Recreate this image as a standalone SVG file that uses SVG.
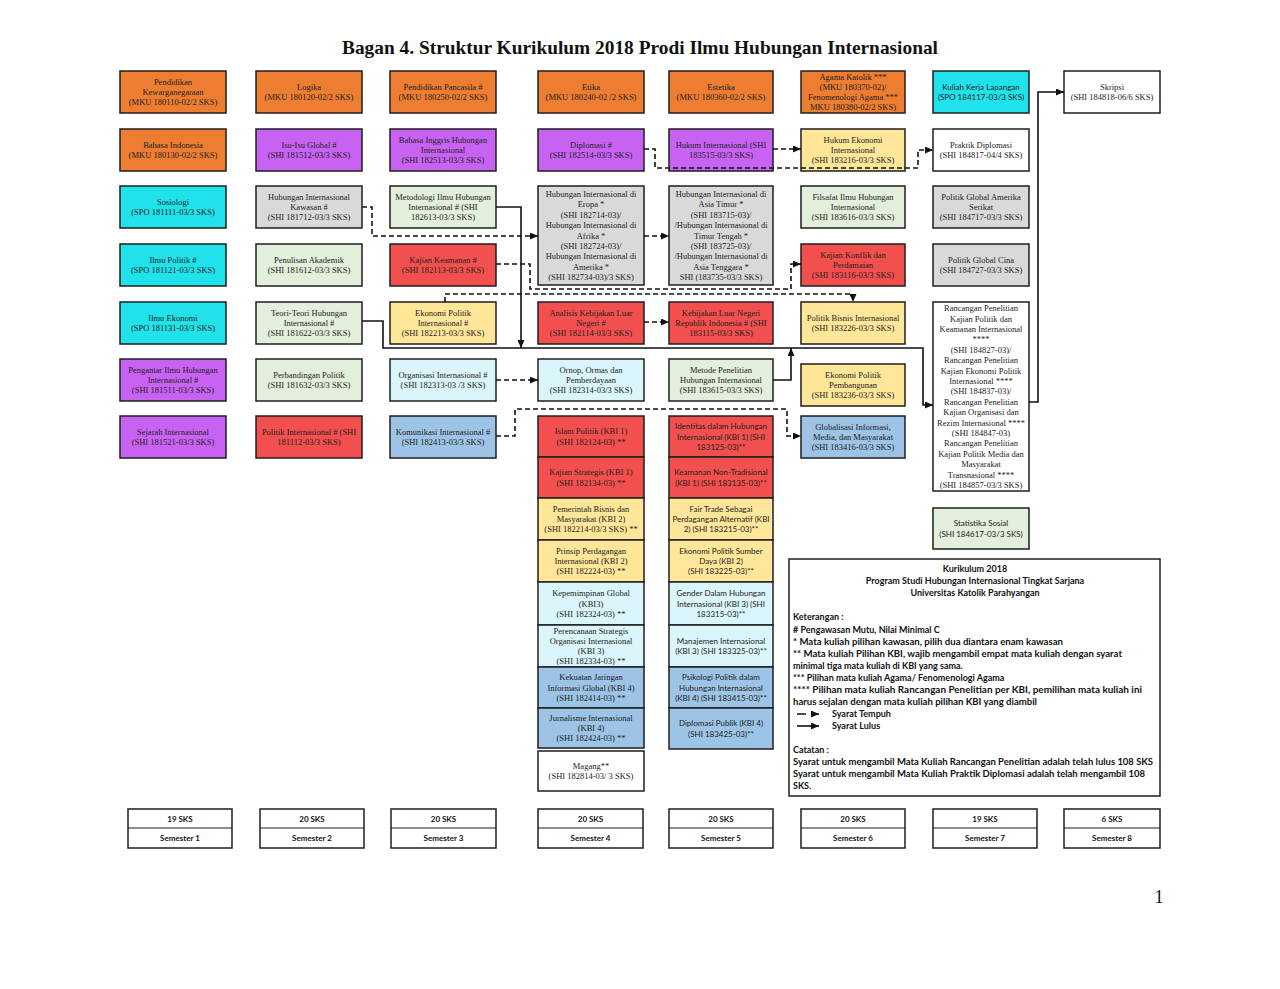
<svg xmlns="http://www.w3.org/2000/svg" width="1280" height="989" viewBox="0 0 1280 989">
<style>
.b{stroke:#1e1e1e;stroke-width:1.5}
.or{fill:#ed7d31}.pu{fill:#c862f2}.cy{fill:#1fe2ea}.gr{fill:#d9d9d9}.lg{fill:#e2efda}.rd{fill:#f24f4f}.ye{fill:#ffe699}.lc{fill:#dbf6fb}.bl{fill:#9dc3e6}.wh{fill:#fff}
.t{font-family:"Liberation Serif","Times New Roman",serif;font-size:8.5px;fill:#222;text-anchor:middle}
.s{font-family:Lato,"Liberation Sans",sans-serif;font-size:8px;fill:#222;text-anchor:middle}
.d{fill:none;stroke:#111;stroke-width:1.6;stroke-dasharray:5 3}
.l{fill:none;stroke:#111;stroke-width:1.6}
.lt{font-family:Lato,"Liberation Sans",sans-serif;font-size:9px;font-weight:bold;fill:#111}
.sm{font-family:Lato,"Liberation Sans",sans-serif;font-size:8px;font-weight:bold;fill:#111;text-anchor:middle}
</style>
<defs>
<marker id="ah" markerUnits="userSpaceOnUse" markerWidth="8" markerHeight="7" refX="8" refY="3.5" orient="auto">
<path d="M0,0 L8,3.5 L0,7 z" fill="#111"/>
</marker>
</defs>
<rect width="1280" height="989" fill="#fff"/>
<text x="342" y="54" font-family="Liberation Serif,Times New Roman,serif" font-size="19" font-weight="bold" fill="#111" textLength="596" lengthAdjust="spacingAndGlyphs">Bagan 4. Struktur Kurikulum 2018 Prodi Ilmu Hubungan Internasional</text>

<!-- Row 1 -->
<g id="n-kewarganegaraan"><rect class="b or" x="120" y="71" width="106" height="42"/><text class="t"><tspan x="173" y="84.6">Pendidikan</tspan><tspan x="173" y="95">Kewarganegaraan</tspan><tspan x="173" y="105.4">(MKU 180110-02/2 SKS)</tspan></text></g>
<g id="n-logika"><rect class="b or" x="256" y="71" width="106" height="42"/><text class="t"><tspan x="309" y="89.8">Logika</tspan><tspan x="309" y="100.2">(MKU 180120-02/2 SKS)</tspan></text></g>
<g id="n-pancasila"><rect class="b or" x="390" y="71" width="106" height="42"/><text class="t"><tspan x="443" y="89.8">Pendidikan Pancasila #</tspan><tspan x="443" y="100.2">(MKU 180250-02/2 SKS)</tspan></text></g>
<g id="n-etika"><rect class="b or" x="538" y="71" width="106" height="42"/><text class="t"><tspan x="591" y="89.8">Etika</tspan><tspan x="591" y="100.2">(MKU 180240-02 /2 SKS)</tspan></text></g>
<g id="n-estetika"><rect class="b or" x="669" y="71" width="104" height="42"/><text class="t"><tspan x="721" y="89.8">Estetika</tspan><tspan x="721" y="100.2">(MKU 180360-02/2 SKS)</tspan></text></g>
<g id="n-agama"><rect class="b or" x="801" y="71" width="104" height="42"/><text class="t"><tspan x="853" y="80">Agama Katolik ***</tspan><tspan x="853" y="90">(MKU 180370-02)/</tspan><tspan x="853" y="100">Fenomenologi Agama ***</tspan><tspan x="853" y="110">MKU 180380-02/2 SKS)</tspan></text></g>
<g id="n-kkl"><rect class="b cy" x="933" y="71" width="96" height="42"/><text class="s"><tspan x="981" y="89.8">Kuliah Kerja Lapangan</tspan><tspan x="981" y="100.2">(SPO 184117-03/3 SKS)</tspan></text></g>
<g id="n-skripsi"><rect class="b wh" x="1064" y="71" width="96" height="42"/><text class="t"><tspan x="1112" y="89.8">Skripsi</tspan><tspan x="1112" y="100.2">(SHI 184818-06/6 SKS)</tspan></text></g>

<!-- Row 2 -->
<g id="n-bindonesia"><rect class="b or" x="120" y="129" width="106" height="42"/><text class="t"><tspan x="173" y="147.8">Bahasa Indonesia</tspan><tspan x="173" y="158.2">(MKU 180130-02/2 SKS)</tspan></text></g>
<g id="n-isuglobal"><rect class="b pu" x="256" y="129" width="106" height="42"/><text class="t"><tspan x="309" y="147.8">Isu-Isu Global #</tspan><tspan x="309" y="158.2">(SHI 181512-03/3 SKS)</tspan></text></g>
<g id="n-binggris"><rect class="b pu" x="390" y="129" width="106" height="42"/><text class="t"><tspan x="443" y="142.6">Bahasa Inggris Hubungan</tspan><tspan x="443" y="153">Internasional</tspan><tspan x="443" y="163.4">(SHI 182513-03/3 SKS)</tspan></text></g>
<g id="n-diplomasi"><rect class="b pu" x="538" y="129" width="106" height="42"/><text class="t"><tspan x="591" y="147.8">Diplomasi #</tspan><tspan x="591" y="158.2">(SHI 182514-03/3 SKS)</tspan></text></g>
<g id="n-hukumint"><rect class="b pu" x="669" y="129" width="104" height="42"/><text class="t"><tspan x="721" y="147.8">Hukum Internasional (SHI</tspan><tspan x="721" y="158.2">183515-03/3 SKS)</tspan></text></g>
<g id="n-hukumeko"><rect class="b ye" x="801" y="129" width="104" height="42"/><text class="t"><tspan x="853" y="142.6">Hukum Ekonomi</tspan><tspan x="853" y="153">Internasional</tspan><tspan x="853" y="163.4">(SHI 183216-03/3 SKS)</tspan></text></g>
<g id="n-praktikdiplomasi"><rect class="b wh" x="933" y="129" width="96" height="42"/><text class="t"><tspan x="981" y="147.8">Praktik Diplomasi</tspan><tspan x="981" y="158.2">(SHI 184817-04/4 SKS)</tspan></text></g>

<!-- Row 3 -->
<g id="n-sosiologi"><rect class="b cy" x="120" y="186" width="106" height="42"/><text class="t"><tspan x="173" y="204.8">Sosiologi</tspan><tspan x="173" y="215.2">(SPO 181111-03/3 SKS)</tspan></text></g>
<g id="n-hikawasan"><rect class="b gr" x="256" y="186" width="106" height="42"/><text class="t"><tspan x="309" y="199.6">Hubungan Internasional</tspan><tspan x="309" y="210">Kawasan #</tspan><tspan x="309" y="220.4">(SHI 181712-03/3 SKS)</tspan></text></g>
<g id="n-metodologi"><rect class="b lg" x="390" y="186" width="106" height="42"/><text class="t"><tspan x="443" y="199.6">Metodologi Ilmu Hubungan</tspan><tspan x="443" y="210">Internasional # (SHI</tspan><tspan x="443" y="220.4">182613-03/3 SKS)</tspan></text></g>
<g id="n-hieropa"><rect class="b gr" x="538" y="186" width="106" height="99"/><text class="t"><tspan x="591" y="196.9">Hubungan Internasional di</tspan><tspan x="591" y="207.3">Eropa *</tspan><tspan x="591" y="217.7">(SHI 182714-03)/</tspan><tspan x="591" y="228.1">Hubungan Internasional di</tspan><tspan x="591" y="238.5">Afrika *</tspan><tspan x="591" y="248.9">(SHI 182724-03)/</tspan><tspan x="591" y="259.3">Hubungan Internasional di</tspan><tspan x="591" y="269.7">Amerika *</tspan><tspan x="591" y="280.1">(SHI 182734-03)/3 SKS)</tspan></text></g>
<g id="n-hiasia"><rect class="b gr" x="669" y="186" width="104" height="99"/><text class="t"><tspan x="721" y="196.9">Hubungan Internasional di</tspan><tspan x="721" y="207.3">Asia Timur *</tspan><tspan x="721" y="217.7">(SHI 183715-03)/</tspan><tspan x="721" y="228.1">/Hubungan Internasional di</tspan><tspan x="721" y="238.5">Timur Tengah *</tspan><tspan x="721" y="248.9">(SHI 183725-03)/</tspan><tspan x="721" y="259.3">/Hubungan Internasional di</tspan><tspan x="721" y="269.7">Asia Tenggara *</tspan><tspan x="721" y="280.1">SHI (183735-03/3 SKS)</tspan></text></g>
<g id="n-filsafat"><rect class="b lg" x="801" y="186" width="104" height="42"/><text class="t"><tspan x="853" y="199.6">Filsafat Ilmu Hubungan</tspan><tspan x="853" y="210">Internasional</tspan><tspan x="853" y="220.4">(SHI 183616-03/3 SKS)</tspan></text></g>
<g id="n-pgamerika"><rect class="b gr" x="933" y="186" width="96" height="42"/><text class="t"><tspan x="981" y="199.6">Politik Global Amerika</tspan><tspan x="981" y="210">Serikat</tspan><tspan x="981" y="220.4">(SHI 184717-03/3 SKS)</tspan></text></g>

<!-- Row 4 -->
<g id="n-ilmupolitik"><rect class="b cy" x="120" y="244" width="106" height="42"/><text class="t"><tspan x="173" y="262.8">Ilmu Politik #</tspan><tspan x="173" y="273.2">(SPO 181121-03/3 SKS)</tspan></text></g>
<g id="n-penulisan"><rect class="b lg" x="256" y="244" width="106" height="42"/><text class="t"><tspan x="309" y="262.8">Penulisan Akademik</tspan><tspan x="309" y="273.2">(SHI 181612-03/3 SKS)</tspan></text></g>
<g id="n-keamanan"><rect class="b rd" x="390" y="244" width="106" height="42"/><text class="t"><tspan x="443" y="262.8">Kajian Keamanan #</tspan><tspan x="443" y="273.2">(SHI 182113-03/3 SKS)</tspan></text></g>
<g id="n-konflik"><rect class="b rd" x="801" y="244" width="104" height="42"/><text class="t"><tspan x="853" y="257.6">Kajian Konflik dan</tspan><tspan x="853" y="268">Perdamaian</tspan><tspan x="853" y="278.4">(SHI 183116-03/3 SKS)</tspan></text></g>
<g id="n-pgcina"><rect class="b gr" x="933" y="244" width="96" height="42"/><text class="t"><tspan x="981" y="262.8">Politik Global Cina</tspan><tspan x="981" y="273.2">(SHI 184727-03/3 SKS)</tspan></text></g>

<!-- Row 5 -->
<g id="n-ilmuekonomi"><rect class="b cy" x="120" y="302" width="106" height="42"/><text class="t"><tspan x="173" y="320.8">Ilmu Ekonomi</tspan><tspan x="173" y="331.2">(SPO 181131-03/3 SKS)</tspan></text></g>
<g id="n-teori"><rect class="b lg" x="256" y="302" width="106" height="42"/><text class="t"><tspan x="309" y="315.6">Teori-Teori Hubungan</tspan><tspan x="309" y="326">Internasional #</tspan><tspan x="309" y="336.4">(SHI 181622-03/3 SKS)</tspan></text></g>
<g id="n-epi"><rect class="b ye" x="390" y="302" width="106" height="42"/><text class="t"><tspan x="443" y="315.6">Ekonomi Politik</tspan><tspan x="443" y="326">Internasional #</tspan><tspan x="443" y="336.4">(SHI 182213-03/3 SKS)</tspan></text></g>
<g id="n-akln"><rect class="b rd" x="538" y="302" width="106" height="42"/><text class="t"><tspan x="591" y="315.6">Analisis Kebijakan Luar</tspan><tspan x="591" y="326">Negeri #</tspan><tspan x="591" y="336.4">(SHI 182114-03/3 SKS)</tspan></text></g>
<g id="n-klnri"><rect class="b rd" x="669" y="302" width="104" height="42"/><text class="t"><tspan x="721" y="315.6">Kebijakan Luar Negeri</tspan><tspan x="721" y="326">Republik Indonesia # (SHI</tspan><tspan x="721" y="336.4">183115-03/3 SKS)</tspan></text></g>
<g id="n-bisnis"><rect class="b ye" x="801" y="302" width="104" height="42"/><text class="t"><tspan x="853" y="320.8">Politik Bisnis Internasional</tspan><tspan x="853" y="331.2">(SHI 183226-03/3 SKS)</tspan></text></g>
<g id="n-rancangan"><rect class="b wh" x="933" y="302" width="96" height="189"/><text class="t"><tspan x="981" y="311.1">Rancangan Penelitian</tspan><tspan x="981" y="321.5">Kajian Politik dan</tspan><tspan x="981" y="331.9">Keamanan Internasional</tspan><tspan x="981" y="342.3">****</tspan><tspan x="981" y="352.7">(SHI 184827-03)/</tspan><tspan x="981" y="363.1">Rancangan Penelitian</tspan><tspan x="981" y="373.5">Kajian Ekonomi Politik</tspan><tspan x="981" y="383.9">Internasional ****</tspan><tspan x="981" y="394.3">(SHI 184837-03)/</tspan><tspan x="981" y="404.7">Rancangan Penelitian</tspan><tspan x="981" y="415.1">Kajian Organisasi dan</tspan><tspan x="981" y="425.5">Rezim Internasional ****</tspan><tspan x="981" y="435.9">(SHI 184847-03)</tspan><tspan x="981" y="446.3">Rancangan Penelitian</tspan><tspan x="981" y="456.7">Kajian Politik Media dan</tspan><tspan x="981" y="467.1">Masyarakat</tspan><tspan x="981" y="477.5">Transnasional ****</tspan><tspan x="981" y="487.9">(SHI 184857-03/3 SKS)</tspan></text></g>

<!-- Row 6 -->
<g id="n-pengantar"><rect class="b pu" x="120" y="359" width="106" height="42"/><text class="t"><tspan x="173" y="372.6">Pengantar Ilmu Hubungan</tspan><tspan x="173" y="383">Internasional #</tspan><tspan x="173" y="393.4">(SHI 181511-03/3 SKS)</tspan></text></g>
<g id="n-perbandingan"><rect class="b lg" x="256" y="359" width="106" height="42"/><text class="t"><tspan x="309" y="377.8">Perbandingan Politik</tspan><tspan x="309" y="388.2">(SHI 181632-03/3 SKS)</tspan></text></g>
<g id="n-organisasi"><rect class="b lc" x="390" y="359" width="106" height="42"/><text class="t"><tspan x="443" y="377.8">Organisasi Internasional #</tspan><tspan x="443" y="388.2">(SHI 182313-03 /3 SKS)</tspan></text></g>
<g id="n-ornop"><rect class="b lc" x="538" y="359" width="106" height="42"/><text class="t"><tspan x="591" y="372.6">Ornop, Ormas dan</tspan><tspan x="591" y="383">Pemberdayaan</tspan><tspan x="591" y="393.4">(SHI 182314-03/3 SKS)</tspan></text></g>
<g id="n-metode"><rect class="b lg" x="669" y="359" width="104" height="42"/><text class="t"><tspan x="721" y="372.6">Metode Penelitian</tspan><tspan x="721" y="383">Hubungan Internasional</tspan><tspan x="721" y="393.4">(SHI 183615-03/3 SKS)</tspan></text></g>
<g id="n-epp"><rect class="b ye" x="801" y="364" width="104" height="42"/><text class="t"><tspan x="853" y="377.6">Ekonomi Politik</tspan><tspan x="853" y="388">Pembangunan</tspan><tspan x="853" y="398.4">(SHI 183236-03/3 SKS)</tspan></text></g>

<!-- Row 7 -->
<g id="n-sejarah"><rect class="b pu" x="120" y="416" width="106" height="42"/><text class="t"><tspan x="173" y="434.8">Sejarah Internasional</tspan><tspan x="173" y="445.2">(SHI 181521-03/3 SKS)</tspan></text></g>
<g id="n-politikint"><rect class="b rd" x="256" y="416" width="106" height="42"/><text class="t"><tspan x="309" y="434.8">Politik Internasional # (SHI</tspan><tspan x="309" y="445.2">181112-03/3 SKS)</tspan></text></g>
<g id="n-komunikasi"><rect class="b bl" x="390" y="416" width="106" height="42"/><text class="t"><tspan x="443" y="434.8">Komunikasi Internasional #</tspan><tspan x="443" y="445.2">(SHI 182413-03/3 SKS)</tspan></text></g>
<g id="n-globalisasi"><rect class="b bl" x="801" y="416" width="104" height="42"/><text class="t"><tspan x="853" y="429.6">Globalisasi Informasi,</tspan><tspan x="853" y="440">Media, dan Masyarakat</tspan><tspan x="853" y="450.4">(SHI 183416-03/3 SKS)</tspan></text></g>

<!-- Semester 4 KBI stack -->
<g id="n-islampolitik"><rect class="b rd" x="538" y="416" width="106" height="41"/><text class="t"><tspan x="591" y="434.3">Islam Politik (KBI 1)</tspan><tspan x="591" y="444.7">(SHI 182124-03) **</tspan></text></g>
<g id="n-strategis"><rect class="b rd" x="538" y="457" width="106" height="41"/><text class="t"><tspan x="591" y="475.3">Kajian Strategis (KBI 1)</tspan><tspan x="591" y="485.7">(SHI 182134-03) **</tspan></text></g>
<g id="n-pemerintah"><rect class="b ye" x="538" y="498" width="106" height="42"/><text class="t"><tspan x="591" y="511.6">Pemerintah Bisnis dan</tspan><tspan x="591" y="522">Masyarakat (KBI 2)</tspan><tspan x="591" y="532.4">(SHI 182214-03/3 SKS) **</tspan></text></g>
<g id="n-prinsip"><rect class="b ye" x="538" y="540" width="106" height="42"/><text class="t"><tspan x="591" y="553.6">Prinsip Perdagangan</tspan><tspan x="591" y="564">Internasional (KBI 2)</tspan><tspan x="591" y="574.4">(SHI 182224-03) **</tspan></text></g>
<g id="n-kepemimpinan"><rect class="b lc" x="538" y="582" width="106" height="43"/><text class="t"><tspan x="591" y="596.1">Kepemimpinan Global</tspan><tspan x="591" y="606.5">(KBI3)</tspan><tspan x="591" y="616.9">(SHI 182324-03) **</tspan></text></g>
<g id="n-perencanaan"><rect class="b lc" x="538" y="625" width="106" height="42"/><text class="t"><tspan x="591" y="634">Perencanaan Strategis</tspan><tspan x="591" y="644">Organisasi Internasional</tspan><tspan x="591" y="654">(KBI 3)</tspan><tspan x="591" y="664">(SHI 182334-03) **</tspan></text></g>
<g id="n-kekuatan"><rect class="b bl" x="538" y="667" width="106" height="41"/><text class="t"><tspan x="591" y="680.1">Kekuatan Jaringan</tspan><tspan x="591" y="690.5">Informasi Global (KBI 4)</tspan><tspan x="591" y="700.9">(SHI 182414-03) **</tspan></text></g>
<g id="n-jurnalisme"><rect class="b bl" x="538" y="708" width="106" height="40"/><text class="t"><tspan x="591" y="720.6">Jurnalisme Internasional</tspan><tspan x="591" y="731">(KBI 4)</tspan><tspan x="591" y="741.4">(SHI 182424-03) **</tspan></text></g>
<g id="n-magang"><rect class="b wh" x="538" y="751" width="106" height="40"/><text class="t"><tspan x="591" y="768.8">Magang**</tspan><tspan x="591" y="779.2">(SHI 182814-03/ 3 SKS)</tspan></text></g>

<!-- Semester 5 KBI stack -->
<g id="n-identitas"><rect class="b rd" x="669" y="416" width="104" height="41"/><text class="s"><tspan x="721" y="429.1">Identitas dalam Hubungan</tspan><tspan x="721" y="439.5">Internasional (KBI 1) (SHI</tspan><tspan x="721" y="449.9">183125-03)**</tspan></text></g>
<g id="n-nontradisional"><rect class="b rd" x="669" y="457" width="104" height="41"/><text class="s"><tspan x="721" y="475.3">Keamanan Non-Tradisional</tspan><tspan x="721" y="485.7">(KBI 1) (SHI 183135-03)**</tspan></text></g>
<g id="n-fairtrade"><rect class="b ye" x="669" y="498" width="104" height="42"/><text class="s"><tspan x="721" y="511.6">Fair Trade Sebagai</tspan><tspan x="721" y="522">Perdagangan Alternatif (KBI</tspan><tspan x="721" y="532.4">2) (SHI 183215-03)**</tspan></text></g>
<g id="n-sumberdaya"><rect class="b ye" x="669" y="540" width="104" height="42"/><text class="s"><tspan x="721" y="553.6">Ekonomi Politik Sumber</tspan><tspan x="721" y="564">Daya (KBI 2)</tspan><tspan x="721" y="574.4">(SHI 183225-03)**</tspan></text></g>
<g id="n-gender"><rect class="b lc" x="669" y="582" width="104" height="43"/><text class="s"><tspan x="721" y="596.1">Gender Dalam Hubungan</tspan><tspan x="721" y="606.5">Internasional (KBI 3) (SHI</tspan><tspan x="721" y="616.9">183315-03)**</tspan></text></g>
<g id="n-manajemen"><rect class="b lc" x="669" y="625" width="104" height="42"/><text class="s"><tspan x="721" y="643.8">Manajemen Internasional</tspan><tspan x="721" y="654.2">(KBI 3) (SHI 183325-03)**</tspan></text></g>
<g id="n-psikologi"><rect class="b bl" x="669" y="667" width="104" height="41"/><text class="s"><tspan x="721" y="680.1">Psikologi Politik dalam</tspan><tspan x="721" y="690.5">Hubungan Internasional</tspan><tspan x="721" y="700.9">(KBI 4) (SHI 183415-03)**</tspan></text></g>
<g id="n-diplomasipublik"><rect class="b bl" x="669" y="708" width="104" height="41"/><text class="s"><tspan x="721" y="726.3">Diplomasi Publik (KBI 4)</tspan><tspan x="721" y="736.7">(SHI 183425-03)**</tspan></text></g>

<g id="n-statistika"><rect class="b lg" x="933" y="508" width="96" height="41"/><text class="s"><tspan x="981" y="526.3">Statistika Sosial</tspan><tspan x="981" y="536.7">(SHI 184617-03/3 SKS)</tspan></text></g>

<!-- Connectors -->
<g id="connectors">
<path class="d" d="M362,207 H372 V236 H538" marker-end="url(#ah)"/>
<path class="d" d="M644,236 H669" marker-end="url(#ah)"/>
<path class="d" d="M644,149 H655 V168 H918 V150 H933" marker-end="url(#ah)"/>
<path class="d" d="M773,149 H801" marker-end="url(#ah)"/>
<path class="d" d="M496,264 H530 V289 H791 V264 H801" marker-end="url(#ah)"/>
<path class="d" d="M445,302 V294 H853 V302" marker-end="url(#ah)"/>
<path class="d" d="M644,322 H669" marker-end="url(#ah)"/>
<path class="d" d="M496,380 H538" marker-end="url(#ah)"/>
<path class="d" d="M496,436 H515 V409 H787 V436 H801" marker-end="url(#ah)"/>
<path class="l" d="M362,321 H383 V348 H923 V405 H933" marker-end="url(#ah)"/>
<path class="l" d="M496,207 H521 V348" marker-end="url(#ah)"/>
<path class="l" d="M773,380 H791 V348" marker-end="url(#ah)"/>
<path class="l" d="M1029,402 H1038 V92 H1064" marker-end="url(#ah)"/>
</g>

<!-- Legend -->
<g id="legend">
<rect x="789" y="559" width="371" height="237" fill="#fff" stroke="#1e1e1e" stroke-width="1.5"/>
<text class="lt" x="975" y="572" text-anchor="middle">Kurikulum 2018</text>
<text class="lt" x="975" y="584" text-anchor="middle">Program Studi Hubungan Internasional Tingkat Sarjana</text>
<text class="lt" x="975" y="596" text-anchor="middle">Universitas Katolik Parahyangan</text>
<text class="lt" x="793" y="620">Keterangan :</text>
<text class="lt" x="793" y="632.5"># Pengawasan Mutu, Nilai Minimal C</text>
<text class="lt" x="793" y="644.5" textLength="270" lengthAdjust="spacingAndGlyphs">* Mata kuliah pilihan kawasan, pilih dua diantara enam kawasan</text>
<text class="lt" x="793" y="656.5" textLength="329" lengthAdjust="spacingAndGlyphs">** Mata kuliah Pilihan KBI, wajib mengambil empat mata kuliah dengan syarat</text>
<text class="lt" x="793" y="668.5">minimal tiga mata kuliah di KBI yang sama.</text>
<text class="lt" x="793" y="680.5">*** Pilihan mata kuliah Agama/ Fenomenologi Agama</text>
<text class="lt" x="793" y="693" textLength="349" lengthAdjust="spacingAndGlyphs">**** Pilihan mata kuliah Rancangan Penelitian per KBI, pemilihan mata kuliah ini</text>
<text class="lt" x="793" y="705" textLength="244" lengthAdjust="spacingAndGlyphs">harus sejalan dengan mata kuliah pilihan KBI yang diambil</text>
<path class="d" d="M797,714 H819" marker-end="url(#ah)" style="stroke-dasharray:9 6"/>
<text class="lt" x="832" y="717">Syarat Tempuh</text>
<path class="l" d="M797,726 H819" marker-end="url(#ah)"/>
<text class="lt" x="832" y="729">Syarat Lulus</text>
<text class="lt" x="793" y="752.5">Catatan :</text>
<text class="lt" x="793" y="765" textLength="360" lengthAdjust="spacingAndGlyphs">Syarat untuk mengambil Mata Kuliah Rancangan Penelitian adalah telah lulus 108 SKS</text>
<text class="lt" x="793" y="777" textLength="352" lengthAdjust="spacingAndGlyphs">Syarat untuk mengambil Mata Kuliah Praktik Diplomasi adalah telah mengambil 108</text>
<text class="lt" x="793" y="789">SKS.</text>
</g>

<!-- Semester boxes -->
<g id="sem1"><rect x="128" y="809" width="104" height="39" fill="#fff" stroke="#1e1e1e" stroke-width="1.5"/><line x1="128" y1="828" x2="232" y2="828" stroke="#1e1e1e" stroke-width="1.2"/><text class="sm" x="180" y="821.5">19 SKS</text><text class="sm" x="180" y="841">Semester 1</text></g>
<g id="sem2"><rect x="260" y="809" width="104" height="39" fill="#fff" stroke="#1e1e1e" stroke-width="1.5"/><line x1="260" y1="828" x2="364" y2="828" stroke="#1e1e1e" stroke-width="1.2"/><text class="sm" x="312" y="821.5">20 SKS</text><text class="sm" x="312" y="841">Semester 2</text></g>
<g id="sem3"><rect x="391" y="809" width="105" height="39" fill="#fff" stroke="#1e1e1e" stroke-width="1.5"/><line x1="391" y1="828" x2="496" y2="828" stroke="#1e1e1e" stroke-width="1.2"/><text class="sm" x="443.5" y="821.5">20 SKS</text><text class="sm" x="443.5" y="841">Semester 3</text></g>
<g id="sem4"><rect x="538" y="809" width="105" height="39" fill="#fff" stroke="#1e1e1e" stroke-width="1.5"/><line x1="538" y1="828" x2="643" y2="828" stroke="#1e1e1e" stroke-width="1.2"/><text class="sm" x="590.5" y="821.5">20 SKS</text><text class="sm" x="590.5" y="841">Semester 4</text></g>
<g id="sem5"><rect x="669" y="809" width="104" height="39" fill="#fff" stroke="#1e1e1e" stroke-width="1.5"/><line x1="669" y1="828" x2="773" y2="828" stroke="#1e1e1e" stroke-width="1.2"/><text class="sm" x="721" y="821.5">20 SKS</text><text class="sm" x="721" y="841">Semester 5</text></g>
<g id="sem6"><rect x="801" y="809" width="104" height="39" fill="#fff" stroke="#1e1e1e" stroke-width="1.5"/><line x1="801" y1="828" x2="905" y2="828" stroke="#1e1e1e" stroke-width="1.2"/><text class="sm" x="853" y="821.5">20 SKS</text><text class="sm" x="853" y="841">Semester 6</text></g>
<g id="sem7"><rect x="933" y="809" width="104" height="39" fill="#fff" stroke="#1e1e1e" stroke-width="1.5"/><line x1="933" y1="828" x2="1037" y2="828" stroke="#1e1e1e" stroke-width="1.2"/><text class="sm" x="985" y="821.5">19 SKS</text><text class="sm" x="985" y="841">Semester 7</text></g>
<g id="sem8"><rect x="1064" y="809" width="96" height="39" fill="#fff" stroke="#1e1e1e" stroke-width="1.5"/><line x1="1064" y1="828" x2="1160" y2="828" stroke="#1e1e1e" stroke-width="1.2"/><text class="sm" x="1112" y="821.5">6 SKS</text><text class="sm" x="1112" y="841">Semester 8</text></g>

<text x="1159" y="903" font-family="Liberation Serif,Times New Roman,serif" font-size="18" text-anchor="middle" fill="#111">1</text>
</svg>
